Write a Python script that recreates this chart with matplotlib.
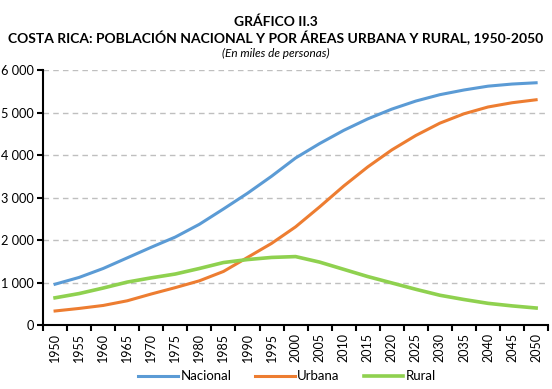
import numpy as np
import matplotlib.pyplot as plt
from matplotlib.ticker import FuncFormatter

anios = [str(a) for a in range(1950, 2051, 5)]
nacional = [960, 1120, 1330, 1580, 1830, 2070, 2370, 2730, 3100, 3500, 3930,
            4270, 4580, 4850, 5080, 5270, 5420, 5530, 5620, 5670, 5700]
urbana = [330, 390, 460, 570, 730, 880, 1040, 1260, 1590, 1920, 2310,
          2780, 3270, 3720, 4120, 4460, 4750, 4970, 5130, 5230, 5300]
rural = [640, 740, 870, 1010, 1110, 1200, 1330, 1470, 1540, 1590, 1610,
         1480, 1310, 1140, 990, 840, 700, 600, 510, 450, 400]

plt.rcParams['font.family'] = ['Lato', 'DejaVu Sans']

fig = plt.figure(figsize=(5.52, 3.89), dpi=100)
ax = fig.add_axes([0.078, 0.1645, 0.915, 0.6555])

x = np.arange(len(anios))
ax.plot(x, nacional, color='#5B9BD5', lw=2.2, label='Nacional')
ax.plot(x, urbana, color='#ED7D31', lw=2.2, label='Urbana')
ax.plot(x, rural, color='#8FD14F', lw=2.6, label='Rural')

ax.set_xlim(-0.5, len(anios) - 0.5)
ax.set_ylim(0, 6000)
ax.set_yticks(range(0, 6001, 1000))
ax.yaxis.set_major_formatter(FuncFormatter(lambda v, p: f"{int(v):,}".replace(',', ' ')))
ax.grid(axis='y', color='#BFBFBF', linestyle=(0, (4, 3)), lw=1)
ax.set_axisbelow(True)

ax.set_xticks(x)
ax.set_xticklabels(anios, rotation=90, fontsize=9)
ax.set_xticks(np.arange(-0.5, len(anios), 1), minor=True)
ax.tick_params(axis='x', which='major', length=0, pad=6)
ax.tick_params(axis='x', which='minor', length=4, width=1.5, direction='out')
ax.tick_params(axis='y', length=4, width=1.5, labelsize=9.2, pad=2.5)

for s in ['top', 'right']:
    ax.spines[s].set_visible(False)
ax.spines['left'].set_linewidth(1.5)
ax.spines['bottom'].set_linewidth(1.5)

fig.text(0.5, 0.945, 'GRÁFICO II.3', ha='center', va='center', fontsize=10, fontweight='bold')
fig.text(0.5, 0.903, 'COSTA RICA: POBLACIÓN NACIONAL Y POR ÁREAS URBANA Y RURAL, 1950-2050',
         ha='center', va='center', fontsize=10, fontweight='bold')
fig.text(0.5, 0.862, '(En miles de personas)', ha='center', va='center', fontsize=8.5, style='italic')

fig.legend(loc='center', bbox_to_anchor=(0.52, 0.033), ncol=3, frameon=False,
           fontsize=9.5, handlelength=3, handletextpad=0.2, columnspacing=1.8)

fig.savefig('out.png', dpi=100)
